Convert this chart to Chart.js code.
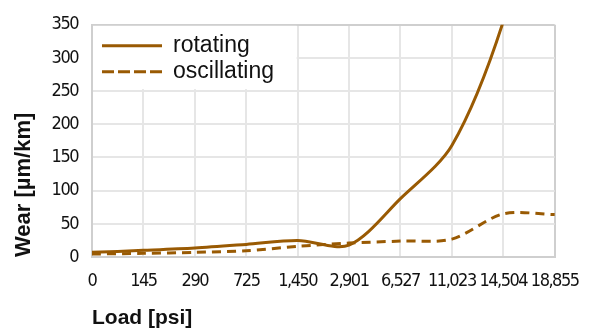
<!DOCTYPE html>
<html>
<head>
<meta charset="utf-8">
<script src="https://cdn.jsdelivr.net/npm/chart.js@4"></script>
<style>
  html, body { margin: 0; padding: 0; background: #fff; }
  #wrap { width: 597px; height: 333px; }
</style>
</head>
<body>
<div id="wrap"><canvas id="wear"></canvas></div>
<script>
// load steps (psi) and wear rates (um/km)
const loads = ['0', '145', '290', '725', '1,450', '2,901', '6,527', '11,023', '14,504', '18,855'];
const rotating = [7, 10, 13.5, 19, 25, 18, 88, 168, 355, 650];
const oscillating = [4.5, 5.5, 7, 9.5, 16, 21, 24, 27, 65, 64];
const wearTicks = [0, 50, 100, 150, 200, 250, 300, 350];

const brown = '#995a03';
// narrow tick digits: ask the canvas for a condensed face through the font shorthand
const tickFont = { family: "'DejaVu Sans', sans-serif", size: 18, weight: 'condensed' };
const edgeGrey = '#cfcfcf';
const gridGrey = '#e6e6e6';

// white legend box sitting inside the top-left of the plot
const insideLegend = {
    id: 'insideLegend',
    afterDatasetsDraw(chart) {
        const { ctx, chartArea, scales } = chart;
        const right = scales.x.getPixelForTick(4) - 1;
        const bottom = scales.y.getPixelForValue(250) - 2;
        ctx.save();
        ctx.fillStyle = '#fff';
        ctx.fillRect(chartArea.left + 1, chartArea.top + 1, right - chartArea.left - 1, bottom - chartArea.top - 1);

        const dashes = [[], [12, 4]];
        chart.data.datasets.forEach((ds, i) => {
            const y = chartArea.top + 21 + i * 26;
            const x0 = chartArea.left + 10;
            ctx.strokeStyle = ds.borderColor;
            ctx.lineWidth = 3;
            ctx.setLineDash(dashes[i]);
            ctx.beginPath();
            ctx.moveTo(x0, y);
            ctx.lineTo(x0 + 60, y);
            ctx.stroke();
            ctx.setLineDash([]);
            ctx.fillStyle = '#111';
            ctx.font = "23px 'Liberation Sans', Arial, sans-serif";
            ctx.textBaseline = 'middle';
            ctx.textAlign = 'left';
            ctx.fillText(ds.label, x0 + 71, y);
        });
        ctx.restore();
        // tick labels are drawn in a later layer (z: 1); squeeze them a little
        ctx.letterSpacing = '-1.5px';
    },
    afterDraw(chart) {
        chart.ctx.letterSpacing = '0px';
    }
};

new Chart(document.getElementById('wear'), {
    type: 'line',
    data: {
        labels: loads,
        datasets: [
            {
                label: 'rotating',
                data: rotating,
                borderColor: brown,
                borderWidth: 3,
                pointRadius: 0,
                tension: 0.3,
                fill: false
            },
            {
                label: 'oscillating',
                data: oscillating,
                borderColor: brown,
                borderWidth: 3,
                borderDash: [9, 6],
                pointRadius: 0,
                tension: 0.3,
                fill: false
            }
        ]
    },
    options: {
        responsive: true,
        maintainAspectRatio: false,
        animation: false,
        layout: { padding: { top: 14, right: 37, left: 0, bottom: 2 } },
        plugins: {
            legend: { display: false },
            tooltip: { enabled: false }
        },
        scales: {
            x: {
                grid: {
                    drawTicks: false,
                    lineWidth: 2,
                    color: ctx => (ctx.index === 0 || ctx.index === loads.length - 1) ? edgeGrey : gridGrey
                },
                border: { color: edgeGrey, width: 2 },
                ticks: { color: '#111', font: tickFont, padding: 14, maxRotation: 0, autoSkip: false, z: 1 },
                title: {
                    display: true,
                    text: 'Load [psi]',
                    align: 'start',
                    color: '#111',
                    font: { family: "'Liberation Sans', Arial, sans-serif", size: 21, weight: 'bold' },
                    padding: { top: 0, bottom: 0 }
                },
                afterFit: scale => { scale.height = 74; }
            },
            y: {
                min: 0,
                max: 350,
                afterBuildTicks: scale => { scale.ticks = wearTicks.map(v => ({ value: v })); },
                grid: {
                    drawTicks: false,
                    lineWidth: 2,
                    color: ctx => (ctx.tick.value === 0 || ctx.tick.value === 350) ? edgeGrey : gridGrey
                },
                border: { color: edgeGrey, width: 2 },
                ticks: { color: '#111', font: tickFont, padding: 14, z: 1 },
                title: {
                    display: true,
                    text: 'Wear [µm/km]',
                    align: 'start',
                    color: '#111',
                    font: { family: "'Liberation Sans', Arial, sans-serif", size: 22, weight: 'bold' },
                    padding: { top: 11, bottom: 0 }
                },
                afterFit: scale => { scale.width = 92; }
            }
        }
    },
    plugins: [insideLegend]
});
</script>
</body>
</html>
